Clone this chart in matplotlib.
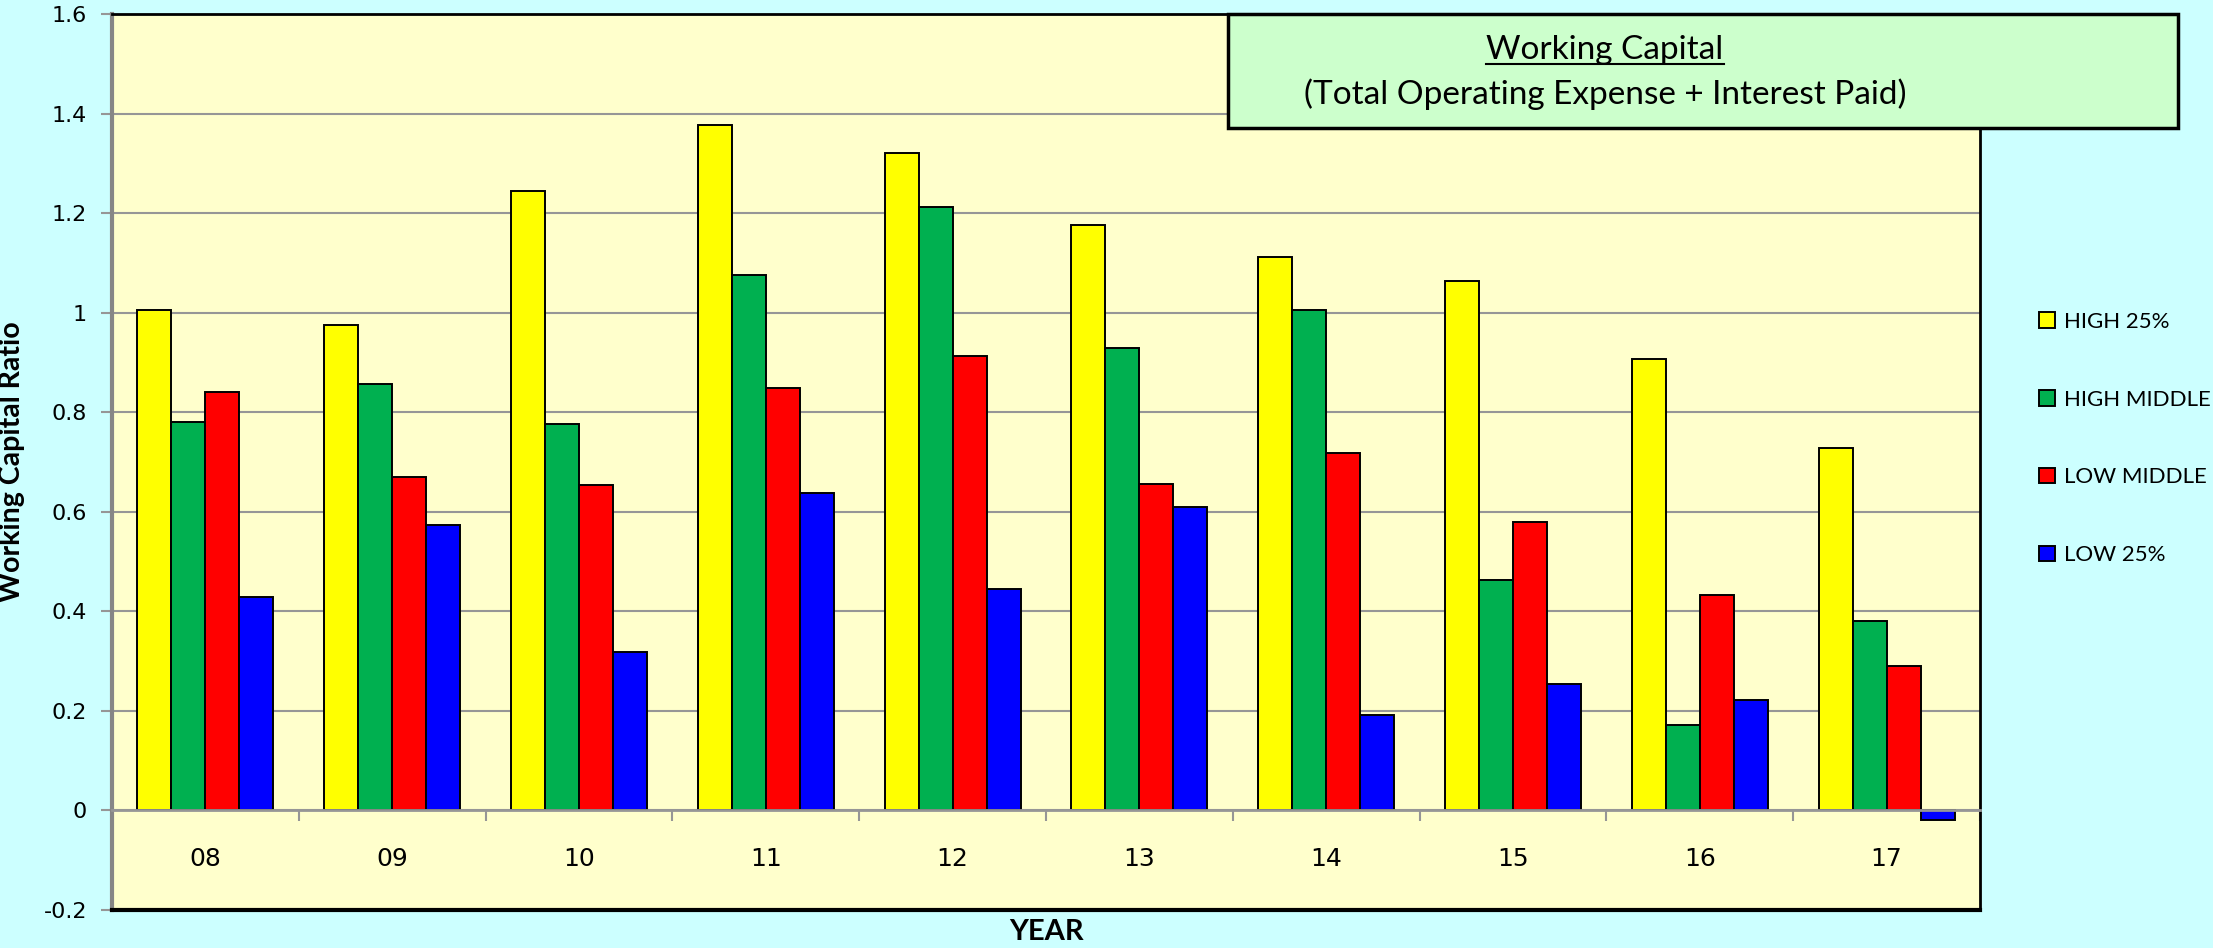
import matplotlib
matplotlib.use("Agg")
from matplotlib import pyplot as plt
from matplotlib.lines import Line2D
from matplotlib.patches import Rectangle
import numpy as np

# data
years = ["08", "09", "10", "11", "12", "13", "14", "15", "16", "17"]
high_25 = [1.005, 0.976, 1.245, 1.378, 1.320, 1.176, 1.112, 1.064, 0.907, 0.728]
high_middle = [0.780, 0.857, 0.776, 1.075, 1.213, 0.930, 1.005, 0.463, 0.172, 0.380]
low_middle = [0.840, 0.670, 0.653, 0.848, 0.913, 0.655, 0.718, 0.580, 0.433, 0.290]
low_25 = [0.428, 0.573, 0.318, 0.638, 0.445, 0.610, 0.192, 0.255, 0.222, -0.020]
series_names = ["HIGH 25%", "HIGH MIDDLE", "LOW MIDDLE", "LOW 25%"]
colors = ["#FFFF00", "#00B050", "#FF0000", "#0000FF"]

fig = plt.figure(figsize=(22.13, 9.48), dpi=100, facecolor="#CCFFFF")
ax = fig.add_axes([0.0506, 0.0401, 0.8441, 0.9451])
ax.set_facecolor("#FFFFCC")

x = np.arange(len(years))
w = 0.182
for k, (vals, name, c) in enumerate(zip([high_25, high_middle, low_middle, low_25], series_names, colors)):
    ax.bar(x + (k - 1.5) * w, vals, w, color=c, edgecolor="black", linewidth=1.4,
           label=name, zorder=3)

ax.set_xlim(-0.5, len(years) - 0.5)
ax.set_ylim(-0.2, 1.6)
ax.set_yticks(np.arange(-0.2, 1.61, 0.2))
ax.set_yticklabels(["-0.2", "0", "0.2", "0.4", "0.6", "0.8", "1", "1.2", "1.4", "1.6"],
                   fontsize=16, family="DejaVu Sans")
ax.yaxis.grid(True, color="#969696", linewidth=1.5, zorder=0)
ax.tick_params(axis="y", length=8, width=1.5, color="#969696", pad=10)

# category axis sits at zero, ticks between groups
ax.set_xticks(np.arange(len(years) + 1) - 0.5)
ax.set_xticklabels([])
ax.set_xticks(x, minor=True)
ax.set_xticklabels(years, minor=True)
ax.tick_params(axis="x", which="major", direction="out", length=8, width=1.5, color="#969696")
ax.tick_params(axis="x", which="minor", length=0, pad=26, labelsize=18)
for lab in ax.get_xticklabels(minor=True):
    lab.set_family("Lato")
ax.spines["bottom"].set_position(("data", 0))
ax.spines["bottom"].set_color("#969696")
ax.spines["bottom"].set_linewidth(2)
ax.spines["bottom"].set_zorder(4)
ax.spines["left"].set_color("#868686")
ax.spines["left"].set_linewidth(3)
for s in ["top", "right"]:
    ax.spines[s].set_color("black")
    ax.spines[s].set_linewidth(2)
ax.axhline(-0.2, color="black", linewidth=3, clip_on=False, zorder=5)

ax.set_ylabel("Working Capital Ratio", fontsize=20.5, fontweight="bold",
              family=["Liberation Sans Narrow", "Lato"], labelpad=13)
fig.text(0.4727, 0.003, "YEAR", ha="center", va="bottom", fontsize=21,
         fontweight="bold", family="Lato")

fig.legend(loc="center left", bbox_to_anchor=(0.9125, 0.5374), frameon=False,
           prop={"family": "Lato", "size": 16}, labelspacing=2.6,
           handlelength=0.7, handleheight=0.7, handletextpad=0.4)

# title box
box = Rectangle((0.5549, 0.865), 0.4293, 0.1203, transform=fig.transFigure,
                facecolor="#CCFFCC", edgecolor="black", linewidth=2.5, zorder=10)
fig.patches.append(box)
t1 = fig.text(0.7253, 0.947, "Working Capital", ha="center", va="center",
              fontsize=24, family="Lato", zorder=11)
t2 = fig.text(0.7253, 0.901, "(Total Operating Expense + Interest Paid)", ha="center",
              va="center", fontsize=24, family="Lato", zorder=11)

fig.canvas.draw()
bb = t1.get_window_extent()
fw, fh = fig.bbox.width, fig.bbox.height
uy = (bb.y0 + 1) / fh
fig.lines.append(Line2D([bb.x0 / fw, bb.x1 / fw], [uy, uy], transform=fig.transFigure,
                        color="black", linewidth=1.5, zorder=12))

fig.savefig("out.png", dpi=100, facecolor=fig.get_facecolor())
